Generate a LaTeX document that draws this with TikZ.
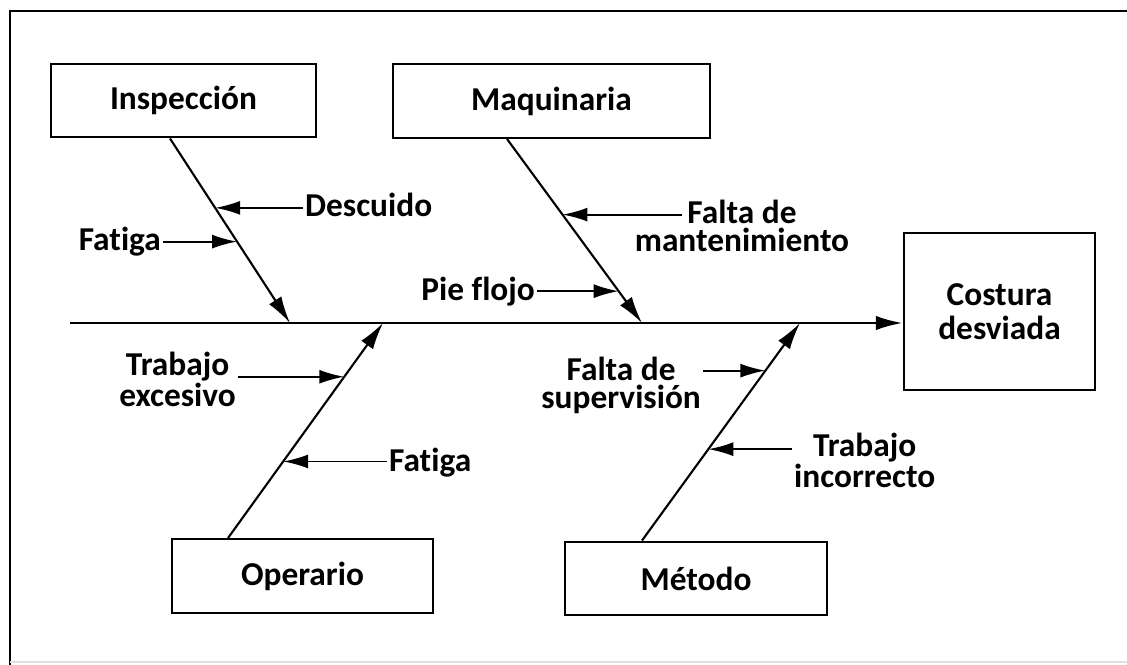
\documentclass[tikz,border=0pt]{standalone}
\usepackage{fontspec}
\setmainfont{Carlito}[Ligatures=NoCommon]
\usetikzlibrary{positioning, arrows.meta, calc}

\begin{document}
\begin{tikzpicture}[
    x=0.02cm, y=-0.02cm,
    box/.style={
        draw,
        line width=1.4pt,
        align=center,
        inner sep=0pt,
        minimum height=1.47cm,
        font=\fontsize{19}{19}\selectfont\bfseries
    },
    cause/.style={align=center, inner sep=1pt, font=\fontsize{19}{16}\selectfont\bfseries},
    arrow/.style={-{Latex[length=5mm,width=2.8mm]}, line width=1.1pt},
    bone/.style={-{Latex[length=5.4mm,width=2.9mm]}, line width=1.2pt},
    spine/.style={-{Latex[length=5.4mm,width=2.9mm]}, line width=1.6pt}
]
\useasboundingbox (0,0) rectangle (1127,665);

% frame
\draw[line width=1.5pt] (10,665) -- (10,11) -- (1127,11);
\draw[black!12, line width=1pt] (10,662) -- (1127,662);

% category boxes
\node[box, minimum width=5.3cm] (insp) at (183.5,100.5) {Inspección};
\node[box, minimum width=6.34cm] (maq) at (551.5,101) {Maquinaria};
\node[box, minimum width=5.22cm] (oper) at (302.5,576) {Operario};
\node[box, minimum width=5.24cm] (met) at (696,578.5) {Método};

% effect
\node[box, minimum width=3.82cm, minimum height=3.14cm] (cost) at (999.5,311.5) {Costura\\desviada};

% spine
\coordinate (tail) at (70,323);
\draw[spine] (tail) -- (tail -| cost.west);

% joints on the spine
\coordinate (jI) at (290,323);
\coordinate (jO) at (383,323);
\coordinate (jM) at (642,323);
\coordinate (jE) at (800,323);

% bones
\coordinate (iTop) at ([xshift=-0.27cm]insp.south);
\coordinate (mTop) at ([xshift=-0.89cm]maq.south);
\coordinate (oTop) at ([xshift=-1.49cm]oper.north);
\coordinate (eTop) at ([xshift=-1.08cm]met.north);
\draw[bone] (iTop) -- (jI);
\draw[bone] (mTop) -- (jM);
\draw[bone] (oTop) -- (jO);
\draw[bone] (eTop) -- (jE);

% Inspeccion causes
\coordinate (dTip) at ($(iTop)!0.376!(jI)$);
\coordinate (fiTip) at ($(iTop)!0.559!(jI)$);
\node[cause, anchor=mid west] (descuido) at (303,212) {Descuido};
\node[cause, anchor=mid east] (fatigaI) at (163,246) {Fatiga};
\draw[arrow] (descuido.mid west |- dTip) -- (dTip);
\draw[arrow] (fatigaI.mid east |- fiTip) -- (fiTip);

% Maquinaria causes
\coordinate (fmTip) at ($(mTop)!0.411!(jM)$);
\coordinate (pfTip) at ($(mTop)!0.827!(jM)$);
\node[cause, anchor=mid] (faltaM) at (742,247) {Falta de\\mantenimiento};
\node[cause, anchor=mid east] (pie) at (537,296) {Pie flojo};
\draw[arrow] ($(faltaM.mid |- fmTip)+(-1.2cm,0)$) -- (fmTip);
\draw[arrow] (pie.mid east |- pfTip) -- (pfTip);

% Operario causes
\coordinate (teTip) at ($(oTop)!0.75!(jO)$);
\coordinate (foTip) at ($(oTop)!0.356!(jO)$);
\node[cause, anchor=mid east] (trabE) at (238,402) {Trabajo\\excesivo};
\node[cause, anchor=mid west] (fatigaO) at (387,467) {Fatiga};
\draw[arrow] (trabE.mid east |- teTip) -- (teTip);
\draw[arrow] (fatigaO.mid west |- foTip) -- (foTip);

% Metodo causes
\coordinate (fsTip) at ($(eTop)!0.781!(jE)$);
\coordinate (tiTip) at ($(eTop)!0.42!(jE)$);
\node[cause, anchor=mid east] (faltaS) at (703,404) {Falta de\\supervisión};
\node[cause, anchor=mid west] (trabI) at (792,483) {Trabajo\\incorrecto};
\draw[arrow] (faltaS.mid east |- fsTip) -- (fsTip);
\draw[arrow] (trabI.mid west |- tiTip) -- (tiTip);

\end{tikzpicture}
\end{document}
